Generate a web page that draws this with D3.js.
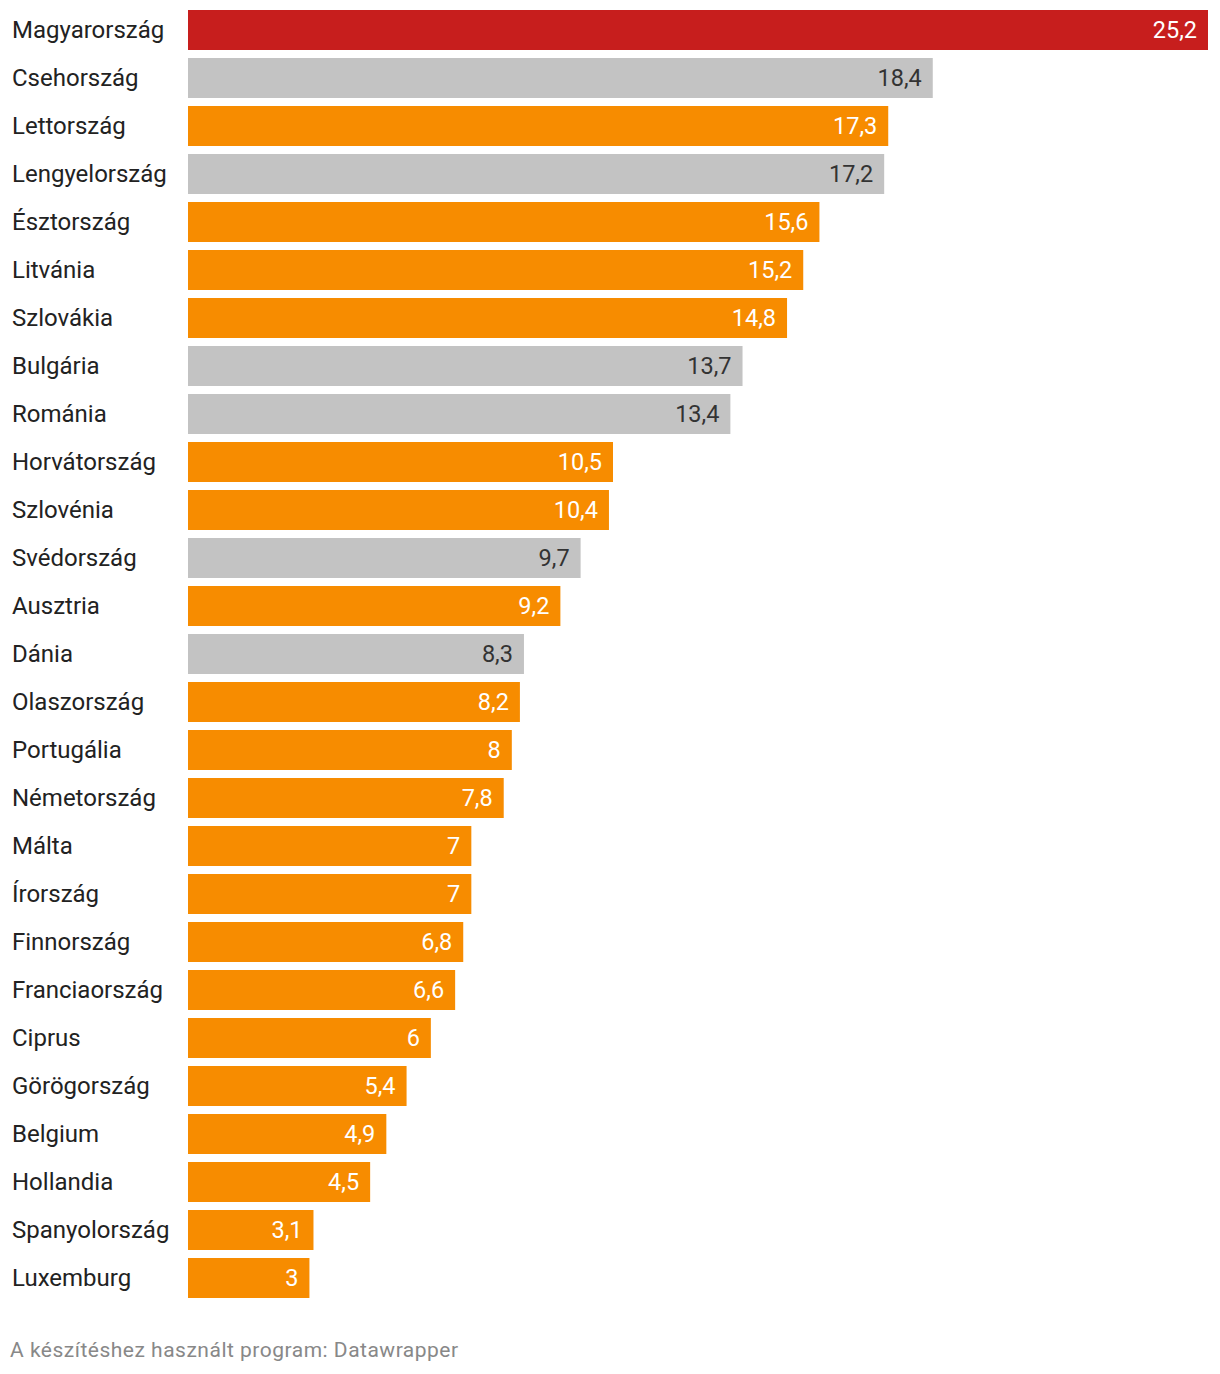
<!DOCTYPE html>
<html><head><meta charset="utf-8">
<script src="https://cdn.jsdelivr.net/npm/d3@7"></script>
<style>
html,body{margin:0;padding:0;background:#fff;}
svg{display:block;font-family:Roboto,sans-serif;}
</style></head>
<body><svg id="chart" width="1220" height="1374"></svg>
<script>
const countries = ["Magyarország","Csehország","Lettország","Lengyelország","Észtország","Litvánia","Szlovákia","Bulgária","Románia","Horvátország","Szlovénia","Svédország","Ausztria","Dánia","Olaszország","Portugália","Németország","Málta","Írország","Finnország","Franciaország","Ciprus","Görögország","Belgium","Hollandia","Spanyolország","Luxemburg"];
const values = [25.2,18.4,17.3,17.2,15.6,15.2,14.8,13.7,13.4,10.5,10.4,9.7,9.2,8.3,8.2,8,7.8,7,7,6.8,6.6,6,5.4,4.9,4.5,3.1,3];
const groups = ["hu","non","euro","non","euro","euro","euro","non","non","euro","euro","non","euro","non","euro","euro","euro","euro","euro","euro","euro","euro","euro","euro","euro","euro","euro"];
const footer = "A készítéshez használt program: Datawrapper";

const colorMap = {hu:"#c71e1d", non:"#c3c3c3", euro:"#f78c00"};
const textMap = {hu:"#ffffff", non:"#333333", euro:"#ffffff"};

const svg = d3.select("#chart");
const x = d3.scaleLinear().domain([0, d3.max(values)]).range([188, 1208]);
const y = d3.scaleBand().domain(countries).range([10, 10 + 48*countries.length - 8]).paddingInner(8/48).paddingOuter(0);
const data = countries.map((c,i)=>({c, v:values[i], g:groups[i]}));

const row = svg.selectAll("g.row").data(data).enter().append("g").attr("class","row");
row.append("text")
  .attr("x",12).attr("y",d=>y(d.c)+y.bandwidth()/2).attr("dy","0.35em")
  .attr("font-size",24).attr("fill","#222").text(d=>d.c);
row.append("rect")
  .attr("x",x(0)).attr("y",d=>y(d.c)).attr("width",d=>x(d.v)-x(0)).attr("height",y.bandwidth())
  .attr("fill",d=>colorMap[d.g]);
row.append("text")
  .attr("x",d=>x(d.v)-11).attr("y",d=>y(d.c)+y.bandwidth()/2).attr("dy","0.35em")
  .attr("text-anchor","end").attr("font-size",23.5).attr("fill",d=>textMap[d.g])
  .text(d=>String(d.v).replace(".",","));

svg.append("text").attr("x",10).attr("y",1357).attr("font-size",21).attr("letter-spacing",0.5).attr("fill","#888").text(footer);
</script></body></html>
